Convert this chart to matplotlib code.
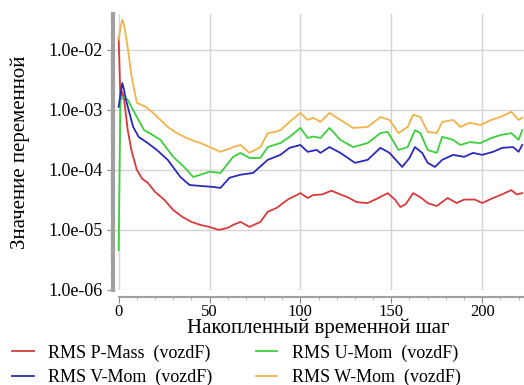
import matplotlib.pyplot as plt
from matplotlib.ticker import FixedLocator, LogLocator, NullFormatter, MultipleLocator

plt.rcParams['font.family'] = ['Liberation Serif', 'DejaVu Serif']

# RMS P-Mass
x_p = [0, 1, 2, 3, 5, 7, 10, 13, 16, 20, 25, 30, 35, 40, 45, 50, 55, 60, 63, 67, 72, 78,
       82, 87, 93, 100, 104, 107, 112, 117, 122, 126, 131, 137, 142, 148, 152, 155, 158,
       162, 166, 170, 175, 181, 186, 190, 196, 200, 205, 210, 216, 219, 222]
y_p = [1.6e-2, 1.6e-3, 2.0e-3, 1.5e-3, 4.6e-4, 2.15e-4, 1.0e-4, 7.1e-5, 6.1e-5, 4.3e-5,
       3.2e-5, 2.15e-5, 1.65e-5, 1.36e-5, 1.21e-5, 1.12e-5, 1.0e-5, 1.08e-5, 1.21e-5,
       1.36e-5, 1.12e-5, 1.36e-5, 2.0e-5, 2.33e-5, 3.2e-5, 4.1e-5, 3.4e-5, 3.8e-5, 3.9e-5,
       4.5e-5, 3.9e-5, 3.5e-5, 2.9e-5, 2.8e-5, 3.3e-5, 4.1e-5, 3.2e-5, 2.4e-5, 2.7e-5,
       4.1e-5, 3.5e-5, 2.8e-5, 2.5e-5, 3.4e-5, 2.8e-5, 3.2e-5, 3.2e-5, 2.8e-5, 3.3e-5,
       3.8e-5, 4.6e-5, 3.9e-5, 4.1e-5]

# RMS U-Mom
x_u = [0, 1, 3, 5, 10, 14, 17, 23, 30, 36, 41, 45, 50, 56, 63, 67, 72, 78, 82, 89, 94,
       100, 104, 107, 111, 116, 122, 129, 137, 144, 148, 154, 159, 163, 166, 170, 175,
       178, 184, 188, 193, 199, 205, 210, 216, 220, 222]
y_u = [4.6e-6, 1.47e-3, 1.65e-3, 1.47e-3, 7.6e-4, 4.6e-4, 4.1e-4, 3.16e-4, 1.65e-4,
       1.12e-4, 7.6e-5, 8.3e-5, 9.3e-5, 8.9e-5, 1.65e-4, 1.92e-4, 1.58e-4, 1.58e-4,
       2.4e-4, 2.8e-4, 3.55e-4, 5.0e-4, 3.4e-4, 3.6e-4, 3.4e-4, 5.0e-4, 3.16e-4, 2.4e-4,
       2.8e-4, 4.1e-4, 4.3e-4, 2.15e-4, 2.4e-4, 4.6e-4, 4.1e-4, 2.15e-4, 1.92e-4,
       3.55e-4, 3.16e-4, 2.6e-4, 2.9e-4, 2.8e-4, 3.4e-4, 3.8e-4, 4.1e-4, 3.16e-4, 4.6e-4]

# RMS V-Mom
x_v = [0, 1, 2, 3, 4, 8, 11, 16, 21, 27, 34, 39, 45, 52, 56, 61, 67, 74, 82, 89, 94,
       100, 104, 109, 111, 116, 122, 130, 137, 144, 149, 156, 160, 163, 167, 170, 174,
       178, 184, 190, 195, 200, 206, 211, 217, 220, 222]
y_v = [1.12e-3, 1.78e-3, 2.8e-3, 2.15e-3, 1.47e-3, 5.2e-4, 3.55e-4, 2.8e-4, 2.15e-4,
       1.47e-4, 7.6e-5, 5.6e-5, 5.4e-5, 5.2e-5, 5.0e-5, 7.4e-5, 8.3e-5, 8.9e-5, 1.47e-4,
       1.78e-4, 2.33e-4, 2.6e-4, 2.0e-4, 2.15e-4, 1.92e-4, 2.4e-4, 1.92e-4, 1.31e-4,
       1.47e-4, 2.33e-4, 1.92e-4, 1.12e-4, 1.58e-4, 2.4e-4, 1.92e-4, 1.31e-4, 1.12e-4,
       1.47e-4, 1.78e-4, 1.65e-4, 1.92e-4, 1.78e-4, 2.0e-4, 2.33e-4, 2.4e-4, 2.0e-4, 2.6e-4]

# RMS W-Mom
x_w = [0, 1, 2, 3, 5, 7, 10, 15, 19, 23, 27, 31, 36, 40, 45, 50, 56, 60, 63, 67, 72, 78,
       82, 86, 89, 94, 100, 104, 107, 111, 116, 122, 129, 137, 144, 149, 154, 159, 162,
       166, 170, 175, 178, 184, 188, 193, 199, 205, 210, 216, 220, 222]
y_w = [1.47e-2, 2.33e-2, 3.16e-2, 2.6e-2, 1.1e-2, 3.8e-3, 1.31e-3, 1.12e-3, 8.9e-4,
       6.8e-4, 5.2e-4, 4.3e-4, 3.55e-4, 3.16e-4, 2.8e-4, 2.4e-4, 2.0e-4, 2.2e-4, 2.4e-4,
       2.6e-4, 1.92e-4, 2.4e-4, 4.1e-4, 4.3e-4, 4.6e-4, 6.3e-4, 8.9e-4, 6.8e-4, 7.4e-4,
       6.3e-4, 8.9e-4, 6.8e-4, 5.0e-4, 5.2e-4, 7.6e-4, 6.8e-4, 4.1e-4, 5.2e-4, 8.3e-4,
       7.6e-4, 4.3e-4, 4.1e-4, 6.3e-4, 6.8e-4, 5.2e-4, 6.1e-4, 5.6e-4, 6.8e-4, 7.6e-4,
       9.3e-4, 6.8e-4, 7.4e-4]

y_ticks = [1e-6, 1e-5, 1e-4, 1e-3, 1e-2]
y_tick_labels = ['1.0e-06', '1.0e-05', '1.0e-04', '1.0e-03', '1.0e-02']

fig = plt.figure(figsize=(5.24, 3.85), dpi=100)
ax = fig.add_axes([0.216, 0.247, 0.784, 0.717])

ax.plot(x_p, y_p, color='#d93a3a', lw=1.3, label='RMS P-Mass  (vozdF)')
ax.plot(x_u, y_u, color='#3ccf3c', lw=1.3, label='RMS U-Mom  (vozdF)')
ax.plot(x_v, y_v, color='#2a2ab8', lw=1.3, label='RMS V-Mom  (vozdF)')
ax.plot(x_w, y_w, color='#f2b24a', lw=1.3, label='RMS W-Mom  (vozdF)')

ax.set_yscale('log')
ax.set_ylim(1e-6, 10 ** -1.4)
ax.set_xlim(-3, 223)
ax.yaxis.set_major_locator(FixedLocator(y_ticks))
ax.set_yticklabels(y_tick_labels)
ax.yaxis.set_minor_locator(LogLocator(base=10, subs=range(2, 10)))
ax.yaxis.set_minor_formatter(NullFormatter())
ax.xaxis.set_major_locator(MultipleLocator(50))
ax.xaxis.set_minor_locator(MultipleLocator(10))

ax.grid(True, which='major', color='#d4d4d4', lw=1)
ax.set_axisbelow(True)

for s in ['top', 'right']:
    ax.spines[s].set_visible(False)
ax.spines['left'].set_color('#a0a0a0')
ax.spines['left'].set_linewidth(3)
ax.spines['bottom'].set_color('#a0a0a0')
ax.spines['bottom'].set_linewidth(1.5)
ax.spines['bottom'].set_position(('outward', 5))
ax.spines['bottom'].set_bounds(0, 223)

ax.tick_params(axis='y', which='major', length=4, color='#888888', labelsize=13)
ax.tick_params(axis='x', which='major', length=4, color='#888888', labelsize=12, pad=1)
ax.tick_params(axis='both', which='minor', length=2, color='#aaaaaa')

ax.set_xlabel('Накопленный временной шаг', fontsize=15, labelpad=-1)
ax.set_ylabel('Значение переменной', fontsize=15, labelpad=13)

handles, labels = ax.get_legend_handles_labels()
order = [0, 2, 1, 3]
fig.legend([handles[i] for i in order], [labels[i] for i in order],
           loc='lower left', bbox_to_anchor=(-0.008, -0.045), ncol=2, frameon=False,
           fontsize=13, handlelength=1.2, handletextpad=0.8, columnspacing=2.4,
           labelspacing=0.4)

fig.savefig('out.png', dpi=100)
